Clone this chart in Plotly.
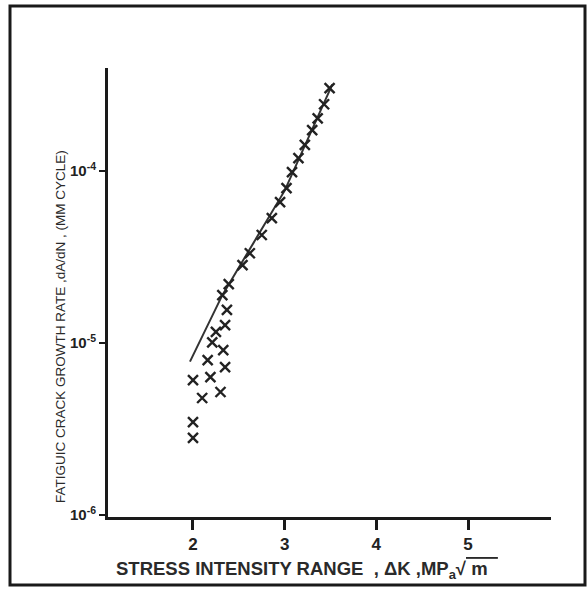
import plotly.graph_objects as go

# Data
dk_upper = [2.32, 2.39, 2.54, 2.62, 2.75, 2.86, 2.95, 3.02, 3.08, 3.15, 3.22, 3.30, 3.36, 3.43, 3.49]
rate_upper = [1.90e-5, 2.20e-5, 2.84e-5, 3.33e-5, 4.25e-5, 5.33e-5, 6.60e-5, 7.96e-5,
              9.87e-5, 1.19e-4, 1.42e-4, 1.73e-4, 2.03e-4, 2.45e-4, 3.04e-4]

dk_lower = [2.37, 2.35, 2.25, 2.21, 2.33, 2.16, 2.35, 2.00, 2.19, 2.30, 2.10, 2.00, 2.00]
rate_lower = [1.56e-5, 1.27e-5, 1.16e-5, 1.01e-5, 9.1e-6, 7.96e-6, 7.25e-6, 6.09e-6,
              6.34e-6, 5.19e-6, 4.79e-6, 3.47e-6, 2.81e-6]

dk_fit = [1.967, 2.32, 3.0, 3.52]
rate_fit = [7.8e-6, 1.9e-5, 7.7e-5, 3.2e-4]

x_ticks = [2, 3, 4, 5]
x_tick_text = ["<b>2</b>", "<b>3</b>", "<b>4</b>", "<b>5</b>"]
y_ticks = [1e-6, 1e-5, 1e-4]
y_tick_text = ["<b>10<sup>-6</sup></b>", "<b>10<sup>-5</sup></b>", "<b>10<sup>-4</sup></b>"]

ink = "#1a1a1a"
font_family = "Liberation Sans, Arial, sans-serif"

fig = go.Figure()
fig.add_trace(go.Scatter(x=dk_fit, y=rate_fit, mode="lines",
                         line=dict(color="#333333", width=2), showlegend=False))
fig.add_trace(go.Scatter(x=dk_upper, y=rate_upper, mode="markers",
                         marker=dict(symbol="x-thin", size=10, line=dict(color="#222222", width=2.4)),
                         showlegend=False))
fig.add_trace(go.Scatter(x=dk_lower, y=rate_lower, mode="markers",
                         marker=dict(symbol="x-thin", size=10, line=dict(color="#222222", width=2.4)),
                         showlegend=False))

fig.update_layout(
    width=587, height=592, autosize=False,
    margin=dict(l=108, r=36, t=68, b=75),
    paper_bgcolor="white", plot_bgcolor="white",
    font=dict(family=font_family, color="#222222"),
    xaxis=dict(range=[1.073, 5.905], showline=True, linewidth=3, linecolor=ink,
               ticks="outside", ticklen=10, tickwidth=3, tickcolor=ink,
               tickvals=x_ticks, ticktext=x_tick_text, tickfont=dict(size=17),
               showgrid=False, zeroline=False),
    yaxis=dict(type="log", range=[-6.012, -3.40], showline=True, linewidth=3, linecolor=ink,
               ticks="outside", ticklen=6, tickwidth=2, tickcolor=ink,
               tickvals=y_ticks, ticktext=y_tick_text, tickfont=dict(size=15),
               showgrid=False, zeroline=False),
    shapes=[dict(type="rect", xref="paper", yref="paper",
                 x0=(10 - 108) / 443, x1=(585 - 108) / 443,
                 y0=(517 - 585) / 449, y1=(517 - 6) / 449,
                 line=dict(color=ink, width=3), fillcolor="rgba(0,0,0,0)", layer="below")],
    annotations=[
        dict(xref="paper", yref="paper", x=(307 - 108) / 443, y=(517 - 570) / 449,
             text="<b>STRESS INTENSITY RANGE  , ΔK ,MP<sub>a</sub>√<span style='text-decoration:overline'> m  </span></b>",
             showarrow=False, font=dict(size=18.5, color="#2a2a2a"), xanchor="center", yanchor="middle"),
        dict(xref="paper", yref="paper", x=(60 - 108) / 443, y=(517 - 327) / 449,
             text="FATIGUIC CRACK GROWTH RATE ,dA/dN , (MM CYCLE)",
             textangle=-90, showarrow=False, font=dict(size=13.5, color="#2a2a2a"),
             xanchor="center", yanchor="middle"),
    ],
)

fig.write_html("out.html")
